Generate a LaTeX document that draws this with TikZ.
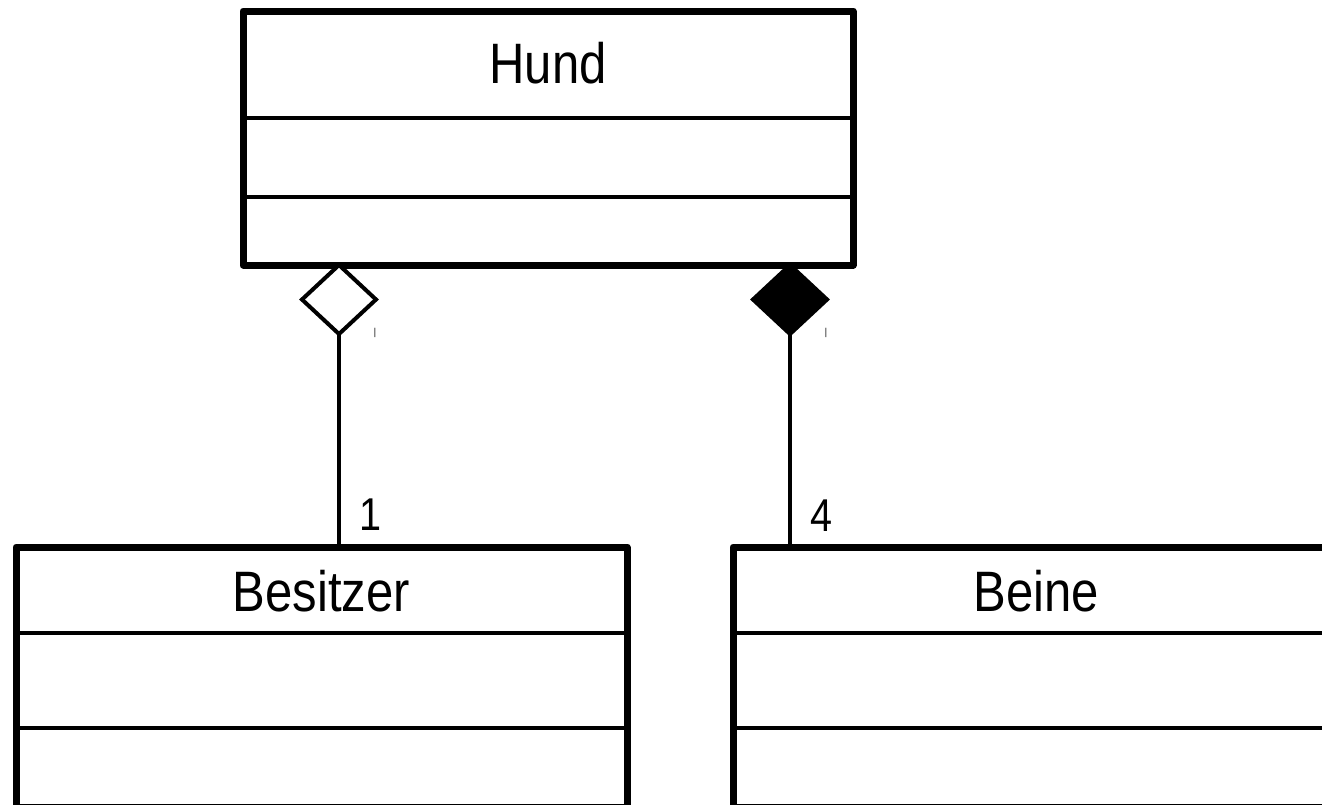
\documentclass[tikz,border=0pt]{standalone}
\usepackage{fontspec}
\newfontfamily\umlfont[FakeStretch=0.86]{Liberation Sans}
\usetikzlibrary{shapes.geometric}

\begin{document}
\begin{tikzpicture}[x=0.5pt,y=-0.5pt,
    umlclass/.style={draw,line width=3.5pt,inner sep=0pt,outer sep=0pt,line join=round},
    divider/.style={line width=2pt},
    title/.style={font=\umlfont\fontsize{28.5pt}{30pt}\selectfont,inner sep=0pt},
    mult/.style={font=\umlfont\fontsize{23pt}{25pt}\selectfont,inner sep=0pt,anchor=base west},
    role/.style={font=\umlfont\fontsize{5pt}{5pt}\selectfont,inner sep=0pt},
    aggr/.style={diamond,draw,fill=white,line width=2pt,inner sep=0pt,outer sep=0pt,
        minimum width=37pt,minimum height=34.5pt,anchor=north},
    comp/.style={aggr,fill=black}]
    \useasboundingbox (0,0) rectangle (1322,804);

    % Define nodes
    \node[umlclass,minimum width=305pt,minimum height=127pt] (hund) at (548,138) {};
    \node[umlclass,minimum width=305.5pt,minimum height=130pt] (besitzer) at (321.5,677) {};
    \node[umlclass,minimum width=303pt,minimum height=130pt] (beine) at (1036,677) {};

    \node[title] (hundname) at (548,63) {Hund};
    \node[title] (besitzername) at (321.5,591) {Besitzer};
    \node[title] (beinename) at (1036,591) {Beine};

    % Compartments
    \foreach \y in {118,197}
        \draw[divider] (hund.west |- 0,\y) -- (hund.east |- 0,\y);
    \foreach \y in {633,728} {
        \draw[divider] (besitzer.west |- 0,\y) -- (besitzer.east |- 0,\y);
        \draw[divider] (beine.west |- 0,\y) -- (beine.east |- 0,\y);
    }

    % Associations
    \node[aggr] (agg) at (hund.south -| 339,0) {};
    \node[comp] (comp) at (hund.south -| 790,0) {};
    \draw[divider] (agg.south) -- (agg.south |- besitzer.north);
    \draw[divider] (comp.south) -- (comp.south |- beine.north);

    \node[mult] (m1) at (359,530) {1};
    \node[mult] (m4) at (810,531) {4};
    \node[role] (r1) at (375,333) {|};
    \node[role] (r4) at (826,333) {|};
\end{tikzpicture}
\end{document}
